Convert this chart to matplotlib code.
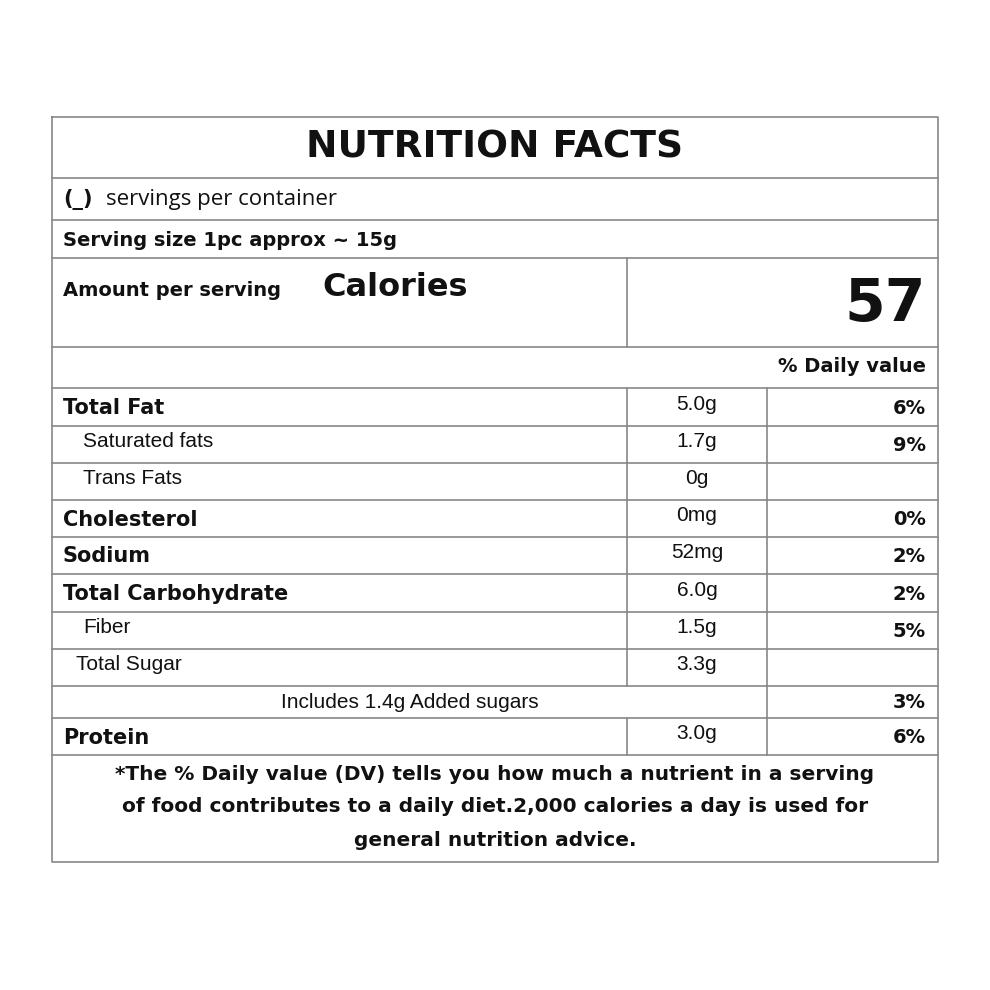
import matplotlib
matplotlib.use("Agg")
import matplotlib.pyplot as plt

title = "NUTRITION FACTS"
servings = "servings per container"
serving_size = "Serving size 1pc approx ~ 15g"
calories = "57"
names = ["Total Fat", "Saturated fats", "Trans Fats", "Cholesterol", "Sodium",
         "Total Carbohydrate", "Fiber", "Total Sugar", "Includes 1.4g Added sugars", "Protein"]
amounts = ["5.0g", "1.7g", "0g", "0mg", "52mg", "6.0g", "1.5g", "3.3g", "", "3.0g"]
pcts = ["6%", "9%", "", "0%", "2%", "2%", "5%", "", "3%", "6%"]
bold = [True, False, False, True, True, True, False, False, False, True]
indent = [63, 83, 83, 63, 63, 63, 83, 76, None, 63]
footnote = ["*The % Daily value (DV) tells you how much a nutrient in a serving",
            "of food contributes to a daily diet.2,000 calories a day is used for",
            "general nutrition advice."]

row_edges = [388, 426, 463, 500, 537, 574, 612, 649, 686, 718, 755]

fig = plt.figure(figsize=(9.9, 9.9), dpi=100)
ax = fig.add_axes([0, 0, 1, 1])
ax.set_xlim(0, 990); ax.set_ylim(990, 0); ax.axis("off")
lc = "#888888"; lw = 1.2
L, R = 52, 938
ax.plot([L, R, R, L, L], [117, 117, 862, 862, 117], color=lc, lw=lw)
for y in [178, 220, 258, 347] + row_edges:
    ax.plot([L, R], [y, y], color=lc, lw=lw)
ax.plot([627, 627], [258, 347], color=lc, lw=lw)
for i in range(len(names)):
    y0, y1 = row_edges[i], row_edges[i + 1]
    if amounts[i] or indent[i] is not None:
        ax.plot([627, 627], [y0, y1], color=lc, lw=lw)
    ax.plot([767, 767], [y0, y1], color=lc, lw=lw)

B = "DejaVu Sans"; N = "Liberation Sans"; k = "#111111"
ax.text(495, 148, title, ha="center", va="center", fontsize=27, fontweight="bold", family=B, color=k)
ax.text(63, 200, "(_)", ha="left", va="center", fontsize=15, fontweight="bold", family=B, color=k)
ax.text(106, 200, servings, ha="left", va="center", fontsize=16, family="Open Sans", color=k)
ax.text(63, 240, serving_size, ha="left", va="center", fontsize=14, fontweight="bold", family=B, color=k)
ax.text(63, 290, "Amount per serving", ha="left", va="center", fontsize=14, fontweight="bold", family=B, color=k)
ax.text(322, 287, "Calories", ha="left", va="center", fontsize=23, fontweight="bold", family=B, color=k)
ax.text(926, 305, calories, ha="right", va="center", fontsize=42, fontweight="bold", family=B, color=k)
ax.text(926, 367, "% Daily value", ha="right", va="center", fontsize=14, fontweight="bold", family=B, color=k)
for i in range(len(names)):
    yc = (row_edges[i] + row_edges[i + 1]) / 2
    if indent[i] is None:
        ax.text(410, yc, names[i], ha="center", va="center", fontsize=15, family=N, color=k)
    elif bold[i]:
        ax.text(indent[i], yc + 1, names[i], ha="left", va="center", fontsize=15, fontweight="bold", family=B, color=k)
    else:
        ax.text(indent[i], yc - 3, names[i], ha="left", va="center", fontsize=15, family=N, color=k)
    ax.text(697, yc - 3, amounts[i], ha="center", va="center", fontsize=15, family=N, color=k)
    ax.text(926, yc + 1, pcts[i], ha="right", va="center", fontsize=14, fontweight="bold", family=B, color=k)
for j, line in enumerate(footnote):
    ax.text(495, 774 + 33 * j, line, ha="center", va="center", fontsize=14.5, fontweight="bold", family=B, color=k)
fig.savefig("out.png", dpi=100, facecolor="white")
